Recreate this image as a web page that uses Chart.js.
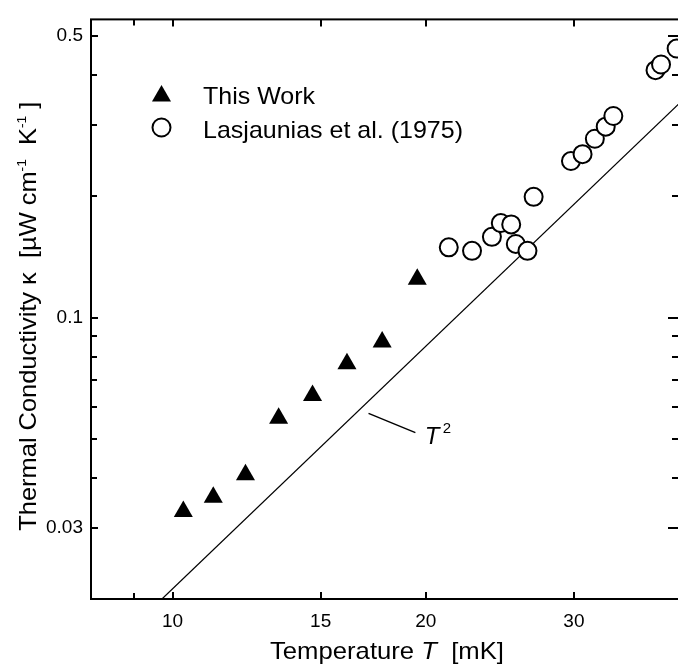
<!DOCTYPE html>
<html>
<head>
<meta charset="utf-8">
<script src="https://cdn.jsdelivr.net/npm/chart.js@4/dist/chart.umd.min.js"></script>
<style>
html,body{margin:0;padding:0;background:#fff;overflow:hidden;}
#wrap{width:690px;height:669px;position:relative;}
</style>
</head>
<body>
<div id="wrap"><canvas id="c" width="690" height="669"></canvas></div>
<script>
// ---- data ----
const thisWorkT = [10.30, 11.18, 12.21, 13.37, 14.67, 16.12, 17.75, 19.54];
const thisWorkK = [0.0330, 0.0358, 0.0407, 0.0562, 0.0640, 0.0768, 0.0870, 0.1244];
const lasjT = [21.30, 22.70, 23.97, 24.56, 25.27, 25.59, 26.42, 26.87, 29.76, 30.72, 31.77, 32.73, 33.42, 37.51, 38.08, 39.74];
const lasjK = [0.1494, 0.1464, 0.1586, 0.1716, 0.1703, 0.1523, 0.1464, 0.1994, 0.2447, 0.2545, 0.2780, 0.2978, 0.3166, 0.4115, 0.4249, 0.4656];
const fitT = [9.715, 40];
const fitK = [0.0200, 0.3395];
const xTicks = [10, 15, 20, 30];
const xTickLabels = ['10', '15', '20', '30'];
const xMinor = [9];
const yTicks = [0.03, 0.1, 0.5];
const yTickLabels = ['0.03', '0.1', '0.5'];
const yMinor = [0.04, 0.05, 0.06, 0.07, 0.08, 0.09, 0.2, 0.3, 0.4];
const seriesNames = ['This Work', 'Lasjaunias et al. (1975)'];

const FONT = "'Liberation Sans', Arial, Helvetica, sans-serif";
// annotation anchor in data coordinates (leader line and label)
const ANNOT = { lineFrom: [17.10, 0.0578], lineTo: [19.44, 0.0518], text: [19.95, 0.0484] };

function drawRuns(ctx, runs, targetWidth) {
  let total = 0;
  runs.forEach(r => { ctx.font = r.font; r.w = ctx.measureText(r.t).width; total += r.w; });
  const s = targetWidth ? targetWidth / total : 1;
  ctx.save();
  ctx.scale(s, 1);
  let x = 0;
  runs.forEach(r => {
    ctx.font = r.font;
    ctx.fillText(r.t, x, r.dy || 0);
    x += r.w;
  });
  ctx.restore();
}

const framePlugin = {
  id: 'frame',
  afterDraw(chart) {
    const { ctx, chartArea: a, scales: { x, y } } = chart;
    ctx.save();
    ctx.strokeStyle = '#000';
    ctx.fillStyle = '#000';
    ctx.lineWidth = 2;
    ctx.lineCap = 'butt';
    ctx.strokeRect(a.left, a.top, a.right - a.left, a.bottom - a.top);
    ctx.beginPath();
    const xt = (vals, len) => vals.forEach(v => {
      const p = Math.round(x.getPixelForValue(v));
      ctx.moveTo(p, a.bottom); ctx.lineTo(p, a.bottom - len);
      ctx.moveTo(p, a.top); ctx.lineTo(p, a.top + len);
    });
    const yt = (vals, lenL, lenR) => vals.forEach(v => {
      const p = Math.round(y.getPixelForValue(v));
      ctx.moveTo(a.left, p); ctx.lineTo(a.left + lenL, p);
      ctx.moveTo(a.right, p); ctx.lineTo(a.right - lenR, p);
    });
    xt(xTicks, 7); xt(xMinor, 6);
    yt(yTicks, 7, 11); yt(yMinor, 6, 7);
    ctx.stroke();

    // legend
    const H = Chart.helpers;
    ctx.lineWidth = 2;
    ctx.fillStyle = '#000';
    if (H && H.drawPoint) {
      H.drawPoint(ctx, { pointStyle: 'triangle', radius: 11, rotation: 0, borderWidth: 0 }, 161.5, 96);
    }
    ctx.fillStyle = '#fff'; ctx.strokeStyle = '#000';
    if (H && H.drawPoint) {
      H.drawPoint(ctx, { pointStyle: 'circle', radius: 9, rotation: 0, borderWidth: 2 }, 161.5, 127.5);
    }
    ctx.fillStyle = '#000';
    ctx.textBaseline = 'alphabetic';
    ctx.textAlign = 'left';
    ctx.save(); ctx.translate(203, 103.5);
    drawRuns(ctx, [{ t: seriesNames[0], font: '24px ' + FONT }], 112);
    ctx.restore();
    ctx.save(); ctx.translate(203, 138);
    drawRuns(ctx, [{ t: seriesNames[1], font: '24px ' + FONT }], 260);
    ctx.restore();

    // T^2 annotation
    const px = v => x.getPixelForValue(v), py = v => y.getPixelForValue(v);
    ctx.lineWidth = 1.5;
    ctx.beginPath();
    ctx.moveTo(px(ANNOT.lineFrom[0]), py(ANNOT.lineFrom[1]));
    ctx.lineTo(px(ANNOT.lineTo[0]), py(ANNOT.lineTo[1]));
    ctx.stroke();
    ctx.save(); ctx.translate(px(ANNOT.text[0]), py(ANNOT.text[1]));
    drawRuns(ctx, [{ t: 'T', font: 'italic 24px ' + FONT }, { t: ' ', font: '12px ' + FONT }, { t: '2', font: '15px ' + FONT, dy: -11 }]);
    ctx.restore();

    // x title
    ctx.save(); ctx.translate(270, 659);
    drawRuns(ctx, [
      { t: 'Temperature ', font: '24px ' + FONT },
      { t: 'T', font: 'italic 24px ' + FONT },
      { t: '  [mK]', font: '24px ' + FONT }
    ], 234);
    ctx.restore();

    // y title (rotated)
    ctx.save(); ctx.translate(36, 530.7); ctx.rotate(-Math.PI / 2);
    drawRuns(ctx, [
      { t: 'Thermal Conductivity ', font: '24px ' + FONT },
      { t: '\u03BA', font: '24px ' + FONT },
      { t: '  [\u00B5W cm', font: '24px ' + FONT },
      { t: '-1', font: '13px ' + FONT, dy: -10 },
      { t: '  K', font: '24px ' + FONT },
      { t: '-1', font: '13px ' + FONT, dy: -10 },
      { t: ' ]', font: '24px ' + FONT }
    ], 429);
    ctx.restore();
    ctx.restore();
  }
};

new Chart(document.getElementById('c'), {
  type: 'scatter',
  data: {
    datasets: [
      {
        label: seriesNames[0],
        data: thisWorkT.map((t, i) => ({ x: t, y: thisWorkK[i] })),
        pointStyle: 'triangle', pointRadius: 11, pointHoverRadius: 11,
        pointBackgroundColor: '#000', pointBorderColor: '#000', pointBorderWidth: 0
      },
      {
        label: seriesNames[1],
        data: lasjT.map((t, i) => ({ x: t, y: lasjK[i] })),
        pointStyle: 'circle', pointRadius: 9, pointHoverRadius: 9,
        pointBackgroundColor: '#fff', pointBorderColor: '#000', pointBorderWidth: 2
      },
      {
        label: 'T2',
        data: fitT.map((t, i) => ({ x: t, y: fitK[i] })),
        showLine: true, pointRadius: 0, borderColor: '#000', borderWidth: 1.2
      }
    ]
  },
  options: {
    responsive: false, animation: false, devicePixelRatio: 1, events: [],
    layout: { padding: { top: 8, right: 8, left: 0, bottom: 0 } },
    plugins: { legend: { display: false }, tooltip: { enabled: false } },
    scales: {
      x: {
        type: 'logarithmic', min: 8, max: 40, bounds: 'data', position: 'bottom',
        afterBuildTicks: s => { s.ticks = xTicks.map(v => ({ value: v })); },
        afterFit: s => { s.height = 70; },
        ticks: {
          callback: v => { const i = xTicks.indexOf(v); return i >= 0 ? xTickLabels[i] : ''; },
          font: { family: FONT, size: 19 }, color: '#000', padding: 11, maxRotation: 0, autoSkip: false
        },
        grid: { display: false, drawTicks: false }, border: { display: false }
      },
      y: {
        type: 'logarithmic', min: 0.02, max: 0.55, bounds: 'data', position: 'left',
        afterBuildTicks: s => { s.ticks = yTicks.map(v => ({ value: v })); },
        afterFit: s => { s.width = 91; },
        ticks: {
          callback: v => { const i = yTicks.indexOf(v); return i >= 0 ? yTickLabels[i] : ''; },
          font: { family: FONT, size: 19 }, color: '#000', padding: 8, autoSkip: false
        },
        grid: { display: false, drawTicks: false }, border: { display: false }
      }
    }
  },
  plugins: [framePlugin]
});
</script>
</body>
</html>
